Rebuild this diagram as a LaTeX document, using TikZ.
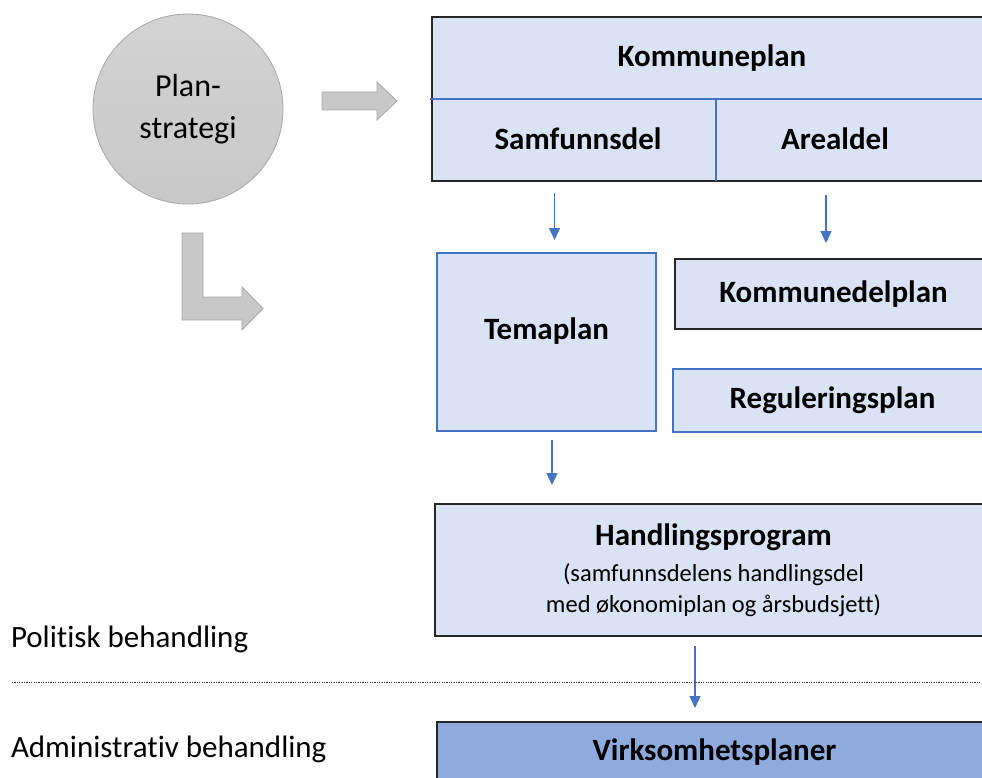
\documentclass[tikz,border=0pt]{standalone}
\usepackage{fontspec}
\setmainfont{Carlito}[Ligatures=NoCommon]
\usepackage{xcolor}
\usetikzlibrary{arrows.meta}

\definecolor{planfill}{HTML}{DAE3F3}
\definecolor{virkfill}{HTML}{8FAADC}
\definecolor{planblue}{HTML}{4472C4}
\definecolor{strgray}{HTML}{C8C8C8}
\definecolor{strline}{HTML}{A6A6A6}

\begin{document}
\begin{tikzpicture}[x=1pt, y=-1pt,
  every node/.style={inner sep=0pt, outer sep=0pt},
  big/.style={font=\fontsize{31}{36}\selectfont},
  bigbold/.style={font=\fontsize{31}{36}\selectfont\bfseries},
  planbox/.style={rectangle, fill=planfill, draw=black!85, line width=1.5pt},
  bluebox/.style={rectangle, fill=planfill, draw=planblue, line width=1.3pt},
  flow/.style={draw=planblue, line width=1.2pt, -{Triangle[width=11pt,length=12pt]}},
  blockarrow/.style={fill=strgray, draw=strline, line width=0.8pt}]
\useasboundingbox (0,0) rectangle (982,778);

% planstrategi
\node[circle, minimum size=190pt, top color=strgray!80, bottom color=strgray,
  draw=strline, line width=0.8pt, align=center,
  font=\fontsize{32}{42}\selectfont] (strat) at (188,109) {Plan-\\strategi};
\filldraw[blockarrow] (322,92) -- (377,92) -- (377,82) -- (397,101) -- (377,120)
  -- (377,110) -- (322,110) -- cycle;
\filldraw[blockarrow] (182,233) -- (203,233) -- (203,297) -- (242,297) -- (242,287)
  -- (263,308.5) -- (242,330) -- (242,320) -- (182,320) -- cycle;

% kommuneplan
\node[planbox, minimum width=560pt, minimum height=164pt] (kommune) at (712,99) {};
\draw[planblue, line width=1.2pt] (430,99) -- (992,99);
\draw[planblue, line width=1.2pt] (716,99) -- (716,181);
\node[bigbold] (kplan) at (712,58) {Kommuneplan};
\node[bigbold] (samf) at (578,139) {Samfunnsdel};
\node[bigbold] (areal) at (835,139) {Arealdel};

\node[bluebox, minimum width=219pt, minimum height=178pt,
  label={[name=tematxt, bigbold, yshift=11pt]center:Temaplan}] (tema) at (546.5,342) {};
\node[planbox, minimum width=317pt, minimum height=70pt, bigbold] (kdel) at (833.5,294) {Kommunedelplan};
\node[bluebox, minimum width=319pt, minimum height=63pt, bigbold] (regul) at (832.5,400.5) {Reguleringsplan};

\node[planbox, minimum width=557pt, minimum height=132pt, align=center,
  font=\fontsize{24.5}{31}\selectfont] (hand) at (713.5,570)
  {{\fontsize{31}{36}\selectfont\bfseries Handlingsprogram}\\[5pt]
   (samfunnsdelens handlingsdel\\med økonomiplan og årsbudsjett)};
\node[planbox, fill=virkfill, minimum width=555pt, minimum height=60pt, bigbold] (virk) at (714.5,752) {Virksomhetsplaner};

% arrows
\draw[flow, shorten <=12pt, shorten >=13pt] ([xshift=8pt]tema.north |- kommune.south) -- ([xshift=8pt]tema.north);
\draw[flow, shorten <=14pt, shorten >=16pt] ([xshift=-7.5pt]kdel.north |- kommune.south) -- ([xshift=-7.5pt]kdel.north);
\draw[flow, shorten <=9pt, shorten >=19pt] ([xshift=5.5pt]tema.south) -- ([xshift=5.5pt]tema.south |- hand.north);
\draw[flow, shorten <=10pt, shorten >=14pt] ([xshift=-18.5pt]hand.south) -- ([xshift=-18.5pt]hand.south |- virk.north);

% behandling
\node[big, anchor=base west] (pol) at (11,647) {Politisk behandling};
\node[big, anchor=base west] (adm) at (11,757) {Administrativ behandling};
\draw[black!80, line width=1pt, dash pattern=on 1.2pt off 1.2pt] (12,682) -- (982,682);
\end{tikzpicture}
\end{document}
